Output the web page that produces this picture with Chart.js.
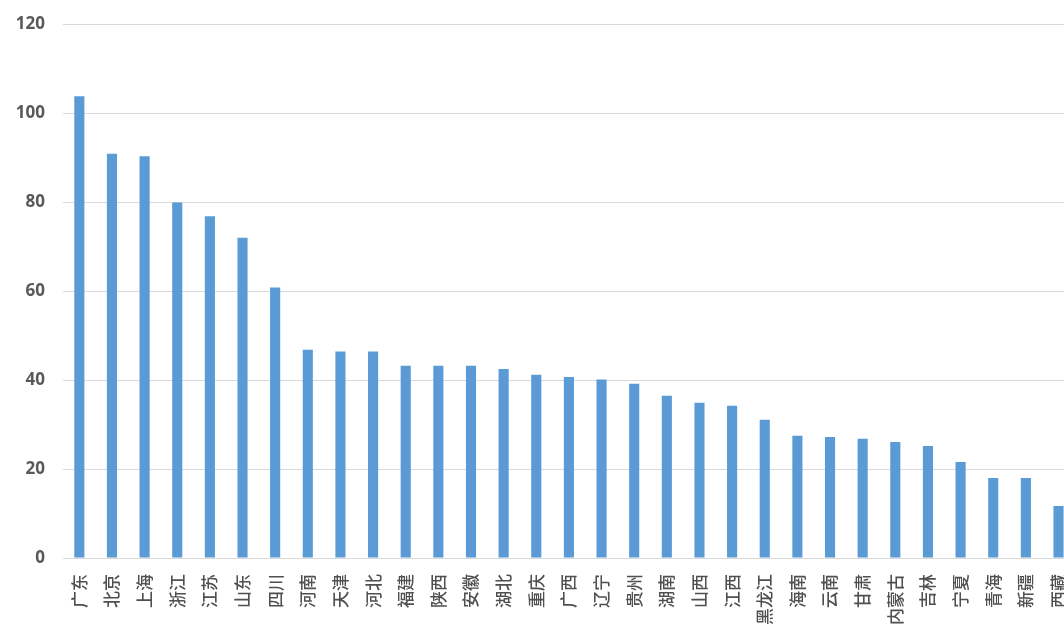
<!DOCTYPE html>
<html>
<head>
<meta charset="utf-8">
<script src="https://cdn.jsdelivr.net/npm/chart.js@4"></script>
<style>
  html, body { margin: 0; padding: 0; background: #fff; overflow: hidden; }
  .wrap { width: 1087px; height: 641px; margin-top: -4px; }
</style>
</head>
<body>
<div class="wrap"><canvas id="provinceChartCanvas" width="1087" height="641"></canvas></div>
<script>
const provinceChartCanvas = document.getElementById("provinceChartCanvas");

const provinces = ['广东', '北京', '上海', '浙江', '江苏', '山东', '四川', '河南', '天津', '河北',
    '福建', '陕西', '安徽', '湖北', '重庆', '广西', '辽宁', '贵州', '湖南', '山西',
    '江西', '黑龙江', '海南', '云南', '甘肃', '内蒙古', '吉林', '宁夏', '青海', '新疆', '西藏'];
const provinceValues = [103.8, 90.9, 90.3, 79.9, 76.8, 72.0, 60.8, 46.8, 46.4, 46.4,
    43.2, 43.2, 43.2, 42.5, 41.2, 40.7, 40.1, 39.2, 36.5, 34.9,
    34.2, 31.1, 27.5, 27.2, 26.8, 26.1, 25.2, 21.6, 18.0, 18.0, 11.7];
const yTicks = [0, 20, 40, 60, 80, 100, 120];

var provinceChartData = {
    labels: provinces,
    datasets: [{
        data: provinceValues,
        backgroundColor: '#5B9BD5',
        borderWidth: 0,
        categoryPercentage: 1,
        barPercentage: 0.31
    }]
}

const provinceChart = new Chart(provinceChartCanvas, {
    type: 'bar',
    data: provinceChartData,
    options: {
        responsive: false,
        animation: false,
        layout: {
            padding: { top: 7, right: 6, bottom: 4, left: 0 }
        },
        plugins: {
            legend: { display: false },
            tooltip: { enabled: false }
        },
        scales: {
            x: {
                ticks: {
                    color: '#505050',
                    maxRotation: 90,
                    minRotation: 90,
                    autoSkip: false,
                    padding: 8,
                    font: { family: 'Noto Sans CJK SC', size: 17, weight: '500' }
                },
                grid: { display: false },
                border: { color: '#d9d9d9', width: 1 }
            },
            y: {
                min: 0,
                max: 120,
                afterBuildTicks(scale) {
                    scale.ticks = yTicks.map(v => ({ value: v }));
                },
                afterFit(scale) {
                    scale.width = 63;
                },
                ticks: {
                    color: '#595959',
                    padding: 18,
                    font: { family: 'Open Sans', size: 17, weight: 'bold' }
                },
                grid: {
                    color: '#d9d9d9',
                    lineWidth: 1,
                    drawTicks: false
                },
                border: { display: false }
            }
        }
    }
});
</script>
</body>
</html>
